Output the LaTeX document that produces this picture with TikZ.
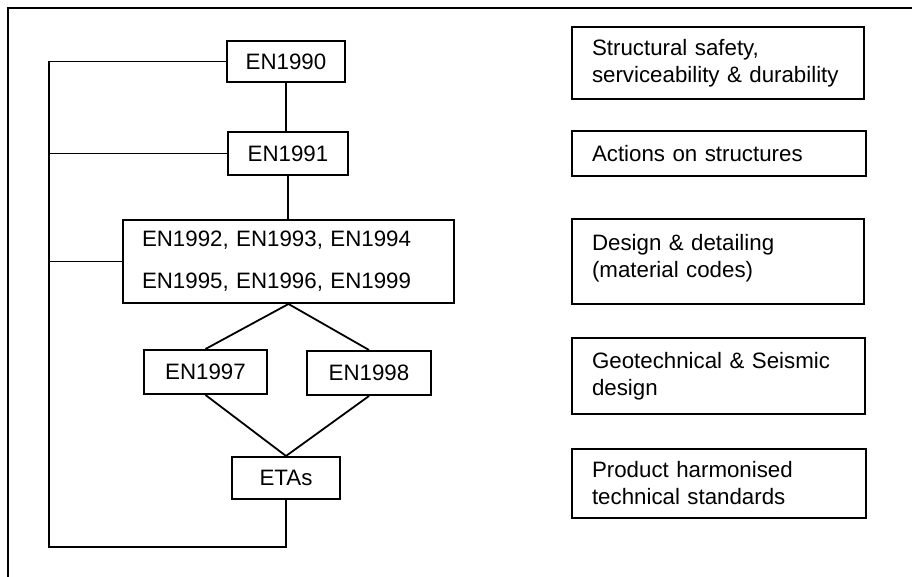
\documentclass[tikz,border=0pt]{standalone}
\usepackage{fontspec}
\setmainfont{Liberation Sans}
\begin{document}
\begin{tikzpicture}[x=1pt,y=-1pt,
  box/.style={draw, line width=2pt, inner sep=0pt, font=\fontsize{22.3}{27}\selectfont},
  lbox/.style={box, inner xsep=20pt, align=left},
  conn/.style={line width=1.8pt}]
\useasboundingbox (0,0) rectangle (912,577);
\draw[conn] (912,8) -- (8,8) -- (8,577);
% left flow
\node[box, minimum width=118, minimum height=41] (en1990) at (286,61.5) {EN1990};
\node[box, minimum width=120, minimum height=43] (en1991) at (288,153.5) {EN1991};
\node[box, inner xsep=19pt, text width=293, minimum height=83, align=left] (mat) at (288.5,261.5)
  {EN1992, EN1993, EN1994\\[15pt]EN1995, EN1996, EN1999};
\node[box, minimum width=123, minimum height=44] (en1997) at (205.5,372) {EN1997};
\node[box, minimum width=124, minimum height=44] (en1998) at (369,373) {EN1998};
\node[box, minimum width=108, minimum height=42] (etas) at (286,478) {ETAs\hspace{16pt}};
% right column
\node[lbox, text width=252, minimum height=72] (r1) at (718,63) {Structural safety,\\serviceability \& durability};
\node[lbox, text width=254, minimum height=45] (r2) at (719,153.5) {Actions on structures};
\node[lbox, text width=252, minimum height=85] (r3) at (718,261.5) {Design \& detailing\\(material codes)\\[-15pt]\mbox{}};
\node[lbox, text width=253, minimum height=76] (r4) at (718.5,376) {Geotechnical \& Seismic\\design};
\node[lbox, text width=254, minimum height=69] (r5) at (719,483.5) {Product harmonised\\technical standards};
% connectors
\coordinate (lft) at (49,0);
\coordinate (bot) at (0,547);
\draw[conn] (en1990.west) -- (en1990.west -| lft) -- (lft |- bot) -- (etas.south |- bot) -- (etas.south);
\draw[conn] (en1991.west) -- (en1991.west -| lft);
\draw[conn] (mat.west) -- (mat.west -| lft);
\draw[conn] (en1990.south) -- (en1990.south |- en1991.north);
\draw[conn] (en1991.south) -- (en1991.south |- mat.north);
\draw[conn] (en1997.north) -- (mat.south) -- (en1998.north);
\draw[conn] (en1997.south) -- (etas.north) -- (en1998.south);
\end{tikzpicture}
\end{document}
